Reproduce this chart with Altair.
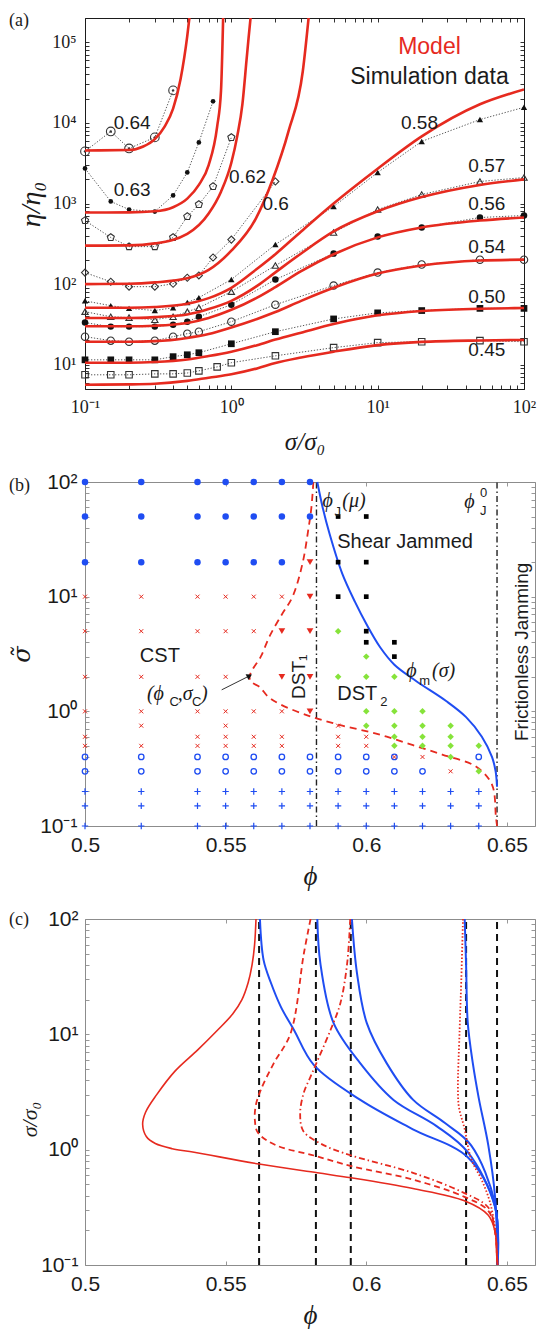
import altair as alt
import pandas as pd

SERIF = "Liberation Serif"
SANS = "Liberation Sans"
RED = "#e62a1f"
BLUE = "#1f4df2"
GREEN = "#86e33a"
INK = "#1b1b1b"
GRAY = "#8c8c8c"
TK = 4

# ---------------- Panel (a): model curves (sigma/sigma0, eta/eta0) ----------------
m045_s = [0.1, 0.2, 0.3, 0.5, 0.7, 1, 1.5, 2, 3, 5, 10, 20, 50, 100]
m045_e = [5.65, 5.7, 5.8, 6.3, 6.9, 7.6, 9.0, 10.5, 12.3, 14.5, 17.5, 19.2, 20.0, 20.3]
m050_s = [0.1, 0.2, 0.3, 0.5, 0.7, 1, 1.5, 2, 3, 5, 10, 20, 50, 100]
m050_e = [10.6, 10.6, 10.8, 11.6, 12.8, 14.5, 17.5, 20.5, 25, 32, 41, 46.5, 49.5, 50.5]
m054_s = [0.1, 0.2, 0.3, 0.5, 0.7, 1, 1.5, 2, 3, 5, 10, 20, 50, 100]
m054_e = [19.3, 19.3, 19.6, 21.5, 24, 29, 37, 45, 62, 90, 135, 170, 196, 201]
m056_s = [0.1, 0.2, 0.3, 0.5, 0.7, 1, 1.5, 2, 3, 5, 10, 20, 50, 100]
m056_e = [30, 30, 30.5, 33, 38, 48, 68, 92, 145, 235, 380, 505, 615, 670]
m057_s = [0.1, 0.2, 0.3, 0.5, 0.7, 1, 1.5, 2, 3, 5, 10, 20, 50, 100]
m057_e = [38, 38, 39, 42, 49, 62, 95, 140, 240, 450, 800, 1200, 1700, 1990]
m058_s = [0.1, 0.2, 0.3, 0.5, 0.7, 1, 1.5, 2, 3, 5, 10, 20, 50, 100]
m058_e = [51, 51, 52, 57, 67, 90, 155, 235, 450, 1000, 2700, 6800, 17000, 26000]
m060_s = [0.1, 0.2, 0.3, 0.5, 0.7, 1, 1.47, 1.92, 2.46, 3.08, 3.39]
m060_e = [100, 101, 105, 118, 150, 260, 650, 2000, 7900, 44000, 220000]
m062_s = [0.1, 0.2, 0.3, 0.5, 0.7, 0.85, 1.0, 1.1, 1.19, 1.27, 1.31, 1.36]
m062_e = [300, 302, 320, 420, 750, 1400, 3200, 7000, 17000, 60000, 110000, 220000]
m063_s = [0.1, 0.2, 0.3, 0.4, 0.5, 0.6, 0.7, 0.8, 0.85, 0.88]
m063_e = [773, 775, 800, 900, 1150, 1700, 3000, 9000, 25000, 220000]
m064_s = [0.1, 0.2, 0.25, 0.3, 0.35, 0.4, 0.45, 0.5, 0.52]
m064_e = [4550, 4600, 5100, 6300, 9000, 15000, 35000, 120000, 220000]

# ---------------- Panel (a): simulation data ----------------
d045_s = [0.1, 0.15, 0.2, 0.3, 0.4, 0.5, 0.6, 0.8, 1, 2, 5, 10, 20, 50, 100]
d045_e = [7.5, 7.5, 7.5, 7.7, 7.7, 7.9, 8.4, 9.4, 10.6, 12.9, 16.3, 18.8, 19.3, 19.9, 19.3]
d050_s = [0.1, 0.15, 0.2, 0.3, 0.4, 0.5, 0.6, 1, 2, 5, 10, 20, 50, 100]
d050_e = [11.5, 11.5, 11.5, 11.5, 12.6, 13.3, 14.1, 18.2, 25.7, 37, 44, 47, 50, 50]
d054_s = [0.1, 0.15, 0.2, 0.3, 0.4, 0.5, 0.6, 1, 2, 5, 10, 20, 50, 100]
d054_e = [22.3, 19.9, 19.3, 19.9, 22.3, 24.3, 25.7, 34.2, 55.6, 96, 139, 175, 201, 201]
d056_s = [0.1, 0.15, 0.2, 0.3, 0.4, 0.5, 0.6, 1, 2, 5, 10, 20, 50, 100]
d056_e = [33.3, 29.7, 29.7, 29.7, 31.4, 34.2, 39.4, 55.6, 114, 239, 389, 504, 670, 710]
d057_s = [0.1, 0.15, 0.2, 0.3, 0.4, 0.5, 0.6, 1, 2, 5, 10, 20, 50, 100]
d057_e = [45.5, 39.4, 38.4, 36.2, 39.4, 45.5, 51, 80.7, 170, 437, 841, 1294, 1875, 2100]
d058_s = [0.1, 0.15, 0.2, 0.3, 0.4, 0.5, 0.6, 1, 2, 5, 10, 20, 50, 100]
d058_e = [62, 54, 50, 47, 51, 59, 68, 114, 310, 918, 2430, 5890, 11000, 15600]
d060_s = [0.1, 0.15, 0.2, 0.3, 0.4, 0.5, 0.6, 0.75, 1, 2]
d060_e = [139, 107, 93, 93, 101, 120, 128, 214, 357, 1875]
d062_s = [0.1, 0.15, 0.2, 0.3, 0.4, 0.5, 0.6, 0.75, 1]
d062_e = [615, 379, 292, 292, 379, 690, 973, 1625, 6600]
d063_s = [0.1, 0.15, 0.2, 0.3, 0.4, 0.5, 0.6, 0.75]
d063_e = [2720, 1060, 841, 794, 1258, 2430, 5730, 18500]
d064_s = [0.1, 0.15, 0.2, 0.3, 0.4]
d064_e = [4430, 7830, 4820, 6610, 25300]

a_labels = ["0.64", "0.63", "0.62", "0.6", "0.58", "0.57", "0.56", "0.54", "0.50", "0.45"]
a_label_s = [0.21, 0.21, 1.29, 2.01, 19.3, 55.7, 55.7, 55.7, 55.7, 55.7]
a_label_e = [10100, 1490, 2160, 973, 10100, 2880, 973, 292, 70, 15.4]

# ---------------- Panel (b): state diagram ----------------
bdot_phi = [0.50, 0.50, 0.50, 0.52, 0.52, 0.52, 0.54, 0.54, 0.54, 0.55, 0.55, 0.55,
            0.56, 0.56, 0.56, 0.57, 0.57, 0.57, 0.58, 0.58]
bdot_sig = [100, 50, 20, 100, 50, 20, 100, 50, 20, 100, 50, 20,
            100, 50, 20, 100, 50, 20, 100, 50]
cross_phi = [0.50] * 6 + [0.52] * 6 + [0.54] * 6 + [0.55] * 7 + [0.56] * 5 + [0.57] * 4 + \
            [0.59] * 3 + [0.60] * 2 + [0.61, 0.62, 0.63]
cross_sig = [10, 5, 2, 1, 0.6, 0.5, 10, 5, 2, 1, 0.75, 0.5, 10, 5, 2, 1, 0.6, 0.5,
             10, 5, 2, 1, 0.75, 0.6, 0.5, 10, 5, 1, 0.6, 0.5, 10, 1, 0.6, 0.5,
             0.75, 0.6, 0.5, 0.6, 0.5, 0.4, 0.4, 0.3]
tri_phi = [0.57, 0.57, 0.58, 0.58, 0.58, 0.58, 0.58]
tri_sig = [5, 2, 20, 10, 5, 2, 1]
sq_phi = [0.59, 0.59, 0.59, 0.60, 0.60, 0.60, 0.60, 0.60, 0.61, 0.61]
sq_sig = [50, 20, 10, 50, 20, 10, 5, 4, 4, 3]
dm_phi = [0.59, 0.59, 0.60, 0.60, 0.60, 0.60, 0.61, 0.61, 0.61, 0.61, 0.61,
          0.62, 0.62, 0.62, 0.62, 0.63, 0.63, 0.63, 0.63, 0.64, 0.64]
dm_sig = [5, 2, 3, 2, 1, 0.75, 2, 1, 0.75, 0.6, 0.5, 1, 0.75, 0.6, 0.5,
          0.75, 0.6, 0.5, 0.4, 0.5, 0.3]
ring_cols = [0.50, 0.52, 0.54, 0.55, 0.56, 0.57, 0.58, 0.59, 0.60, 0.61]
ring_phi = [p for p in ring_cols for _ in (0, 1)] + [0.62, 0.64]
ring_sig = [0.4, 0.3] * len(ring_cols) + [0.3, 0.4]
plus_cols = [0.50, 0.52, 0.54, 0.55, 0.56, 0.57, 0.58, 0.59, 0.60, 0.61, 0.62, 0.63, 0.64]
plus_phi = [p for p in plus_cols for _ in (0, 1, 2)]
plus_sig = [0.2, 0.15, 0.1] * len(plus_cols)

phim_phi = [0.5826, 0.5845, 0.5870, 0.5915, 0.5960, 0.6000, 0.6050, 0.6100, 0.6177,
            0.6284, 0.6355, 0.6411, 0.6447, 0.6460, 0.6465]
phim_sig = [100, 60, 35, 15.8, 9, 5.8, 3.6, 2.55, 1.84, 1.23, 0.89, 0.6, 0.4, 0.3, 0.22]
rd_phi = [0.5812, 0.5805, 0.5795, 0.5773, 0.5738, 0.5700, 0.5656, 0.5625, 0.5595, 0.5585,
          0.5592, 0.5621, 0.5650, 0.5691, 0.5798, 0.5915, 0.6035, 0.6152, 0.6270, 0.6390,
          0.6447, 0.6461, 0.6465]
rd_sig = [100, 60, 40, 19.3, 10, 7, 4.5, 3.0, 2.3, 2.0, 1.8, 1.63, 1.35, 1.16, 0.91,
          0.75, 0.64, 0.52, 0.42, 0.33, 0.23, 0.12, 0.1]
b_vlines = [0.5823, 0.6465]

# ---------------- Panel (c): flow-curve boundaries ----------------
c_vlines = [0.5619, 0.5821, 0.5945, 0.6355, 0.6465]
c_solid_phi = [0.5608, 0.5603, 0.5594, 0.5580, 0.5558, 0.5525, 0.5470, 0.5400, 0.5320, 0.5255,
               0.5215, 0.5205, 0.5218, 0.5250, 0.5310, 0.5388, 0.5619, 0.5826, 0.5947, 0.6166,
               0.6349, 0.6434, 0.6458, 0.6464, 0.6467]
c_solid_sig = [100, 60, 40, 28, 20, 15, 10.8, 7.3, 4.8, 3.0, 2.1, 1.65, 1.3, 1.13, 1.02, 0.95,
               0.75, 0.63, 0.57, 0.46, 0.36, 0.27, 0.195, 0.12, 0.1]
c_dash_phi = [0.5802, 0.5778, 0.5731, 0.5671, 0.5625, 0.5607, 0.5604, 0.5615, 0.5680, 0.5814,
              0.5947, 0.6166, 0.6349, 0.6434, 0.6458, 0.6465, 0.6467]
c_dash_sig = [100, 50, 10.2, 5.6, 3.3, 2.4, 1.8, 1.4, 1.09, 0.89, 0.72, 0.55, 0.39, 0.295,
              0.195, 0.12, 0.1]
c_dd_phi = [0.5943, 0.5932, 0.5908, 0.5873, 0.5802, 0.5777, 0.5765, 0.5777, 0.5850, 0.5947,
            0.6166, 0.6349, 0.6434, 0.6458, 0.6465, 0.6467]
c_dd_sig = [100, 41, 18.6, 10.9, 4.3, 3.07, 2.03, 1.44, 1.09, 0.89, 0.63, 0.42, 0.315, 0.195,
            0.12, 0.1]
c_dot_phi = [0.6344, 0.6338, 0.6332, 0.6326, 0.6330, 0.6349, 0.6373, 0.6410, 0.6440, 0.6460]
c_dot_sig = [100, 30, 10.9, 3.3, 2.3, 1.54, 0.83, 0.55, 0.35, 0.2]
cbA_phi = [0.5622, 0.5635, 0.5661, 0.5696, 0.5743, 0.5814, 0.5979, 0.6166, 0.6361, 0.6458, 0.6467]
cbA_sig = [100, 44, 28, 17.4, 10.9, 5.4, 2.7, 1.5, 0.86, 0.32, 0.1]
cbB_phi = [0.5826, 0.5837, 0.5884, 0.5979, 0.6097, 0.6250, 0.6361, 0.6458, 0.6467]
cbB_sig = [100, 41, 12.5, 5.6, 2.7, 1.6, 0.95, 0.32, 0.1]
cbC_phi = [0.5949, 0.5967, 0.6002, 0.6073, 0.6167, 0.6280, 0.6373, 0.6458, 0.6467]
cbC_sig = [100, 34, 12.5, 5.6, 2.7, 1.7, 1.09, 0.34, 0.1]
cbD_phi = [0.6350, 0.6355, 0.6361, 0.6379, 0.6400, 0.6434, 0.6458, 0.6467]
cbD_sig = [100, 40, 12.5, 5.6, 2.8, 1.09, 0.39, 0.1]

# ================= helpers =================
SUP = {-1: "10\u207b\u00b9", 0: "10\u2070", 1: "10\u00b9", 2: "10\u00b2",
       3: "10\u00b3", 4: "10\u2074", 5: "10\u2075"}


def decade_expr(decs):
    parts = [f"abs(log(datum.value)/log(10) - ({d})) < 0.001 ? '{SUP[d]}'" for d in decs]
    return " : ".join(parts) + " : ''"


def log_ticks(d0, d1, lo, hi):
    out = []
    for d in range(d0, d1 + 1):
        for k in range(1, 10):
            v = round(k * 10.0 ** d, 10)
            if lo <= v <= hi:
                out.append(v)
    return out


def axis(orient, values, labels=True, expr=None, fmt=None, font=SANS, fsize=21, pad=8,
         tcolor=INK, title=None, tfont=SERIF, tsize=24, tx=None, ty=None):
    kw = dict(orient=orient, values=values, offset=-TK, domain=False, tickSize=TK,
              tickColor=tcolor, tickWidth=0.9, grid=False, labelOverlap=False,
              labelFlush=False, title=title, minExtent=0)
    if labels:
        kw.update(labels=True, labelFont=font, labelFontSize=fsize, labelColor=INK,
                  labelPadding=pad)
        if expr is not None:
            kw["labelExpr"] = expr
        if fmt is not None:
            kw["format"] = fmt
    else:
        kw.update(labels=False, maxExtent=0)
    if title:
        kw.update(titleFont=tfont, titleFontSize=tsize, titleFontStyle="italic",
                  titleFontWeight="normal", titleColor=INK, titleAlign="center",
                  titleBaseline="middle")
        if tx is not None:
            kw["titleX"] = tx
        if ty is not None:
            kw["titleY"] = ty
    return alt.Axis(**kw)


def series_df(items, xname, yname):
    rows = []
    for key, xs, ys in items:
        for i, (a, b) in enumerate(zip(xs, ys)):
            rows.append({"key": key, xname: a, yname: b, "i": i})
    return pd.DataFrame(rows)


def panel_letter(txt, dy):
    return alt.Chart(pd.DataFrame({"t": [txt]})).mark_text(
        font=SERIF, fontSize=18, color=INK, align="left", baseline="top"
    ).encode(x=alt.value(-76), y=alt.value(dy), text="t:N")


# ================= Panel (a) =================
WA, HA = 439, 371
xs_a = alt.Scale(type="log", domain=[0.1, 100])
ys_a = alt.Scale(type="log", domain=[5, 2e5])
xa_vals = log_ticks(-1, 2, 0.1, 100)
ya_vals = log_ticks(0, 5, 5, 2e5)

ax_a_x = axis("bottom", xa_vals, expr=decade_expr([-1, 0, 1, 2]), font=SERIF, fsize=18, pad=9,
              title="σ/σ₀", tsize=25, ty=56)
ax_a_y = axis("left", ya_vals, expr=decade_expr([1, 2, 3, 4, 5]), font=SERIF, fsize=18, pad=9,
              title="η/η₀", tsize=28, tx=-58, ty=186)

model_df = series_df([
    ("0.45", m045_s, m045_e), ("0.50", m050_s, m050_e), ("0.54", m054_s, m054_e),
    ("0.56", m056_s, m056_e), ("0.57", m057_s, m057_e), ("0.58", m058_s, m058_e),
    ("0.6", m060_s, m060_e), ("0.62", m062_s, m062_e), ("0.63", m063_s, m063_e),
    ("0.64", m064_s, m064_e)], "s", "e")

SQ = "square"
CI = "circle"
TU = "triangle-up"
DI = "diamond"
PENT = "M0,-1L0.951,-0.309L0.588,0.809L-0.588,0.809L-0.951,-0.309Z"
data_items = [
    ("0.45", d045_s, d045_e, SQ, False, 42), ("0.50", d050_s, d050_e, SQ, True, 45),
    ("0.54", d054_s, d054_e, CI, False, 55), ("0.56", d056_s, d056_e, CI, True, 42),
    ("0.57", d057_s, d057_e, TU, False, 40), ("0.58", d058_s, d058_e, TU, True, 40),
    ("0.6", d060_s, d060_e, DI, False, 50), ("0.62", d062_s, d062_e, PENT, False, 55),
    ("0.63", d063_s, d063_e, CI, True, 22), ("0.64", d064_s, d064_e, CI, False, 75),
]
rows = []
for key, xs, ys, shp, fil, sz in data_items:
    for i, (a, b) in enumerate(zip(xs, ys)):
        rows.append({"key": key, "s": a, "e": b, "i": i, "shape": shp, "filled": fil, "size": sz})
data_df = pd.DataFrame(rows)

enc_a = dict(x=alt.X("s:Q", scale=xs_a, axis=None), y=alt.Y("e:Q", scale=ys_a, axis=None))

a_dots_line = alt.Chart(data_df).mark_line(
    color="#444", strokeDash=[1.3, 1.7], strokeWidth=0.9
).encode(detail="key:N", order="i:Q", **enc_a)
a_open = alt.Chart(data_df[~data_df["filled"]]).mark_point(
    filled=False, color="#333", strokeWidth=1.1, opacity=1
).encode(shape=alt.Shape("shape:N", scale=None), size=alt.Size("size:Q", scale=None), **enc_a)
a_fill = alt.Chart(data_df[data_df["filled"]]).mark_point(
    filled=True, color="#111", opacity=1
).encode(shape=alt.Shape("shape:N", scale=None), size=alt.Size("size:Q", scale=None), **enc_a)
a_center = alt.Chart(data_df[data_df["key"] == "0.64"]).mark_point(
    filled=True, color="#333", size=6, shape="circle", opacity=1).encode(**enc_a)

a_model = alt.Chart(model_df).mark_line(
    color=RED, strokeWidth=2.6, clip=True, interpolate="monotone"
).encode(x=alt.X("s:Q", scale=xs_a, axis=ax_a_x), y=alt.Y("e:Q", scale=ys_a, axis=ax_a_y),
         detail="key:N", order="i:Q")

a_lab = alt.Chart(pd.DataFrame({"t": a_labels, "s": a_label_s, "e": a_label_e})).mark_text(
    font=SANS, fontSize=19, color=INK).encode(text="t:N", **enc_a)
a_leg = alt.Chart(pd.DataFrame({"t": ["Model", "Simulation data"], "s": [22.6, 22.6],
                                "e": [86700, 36700], "c": [RED, INK]})).mark_text(
    font=SANS, fontSize=23).encode(text="t:N", color=alt.Color("c:N", scale=None), **enc_a)
a_frame = alt.Chart(pd.DataFrame({"s": [1.0], "e": [100.0]})).mark_point(opacity=0).encode(
    x=alt.X("s:Q", scale=xs_a, axis=axis("top", xa_vals, labels=False)),
    y=alt.Y("e:Q", scale=ys_a, axis=axis("right", ya_vals, labels=False)))

panel_a = alt.layer(a_frame, a_dots_line, a_open, a_fill, a_center, a_model, a_lab, a_leg,
                    panel_letter("(a)", -6)).properties(
    width=WA, height=HA, view=alt.ViewBackground(stroke=INK, strokeWidth=1))

# ================= Panel (b) =================
WB, HB = 450, 344
xs_b = alt.Scale(domain=[0.5, 0.66], nice=False, zero=False)
ys_b = alt.Scale(type="log", domain=[0.1, 100])
xb_vals = [0.5, 0.55, 0.6, 0.65]
yb_vals = log_ticks(-1, 2, 0.1, 100)

ax_b_x = axis("bottom", xb_vals, fmt="~g", pad=8, tcolor=GRAY, title="ϕ", tsize=27, ty=54)
ax_b_y = axis("left", yb_vals, expr=decade_expr([-1, 0, 1, 2]), pad=8, tcolor=GRAY,
              title="σ̃", tfont="DejaVu Serif", tsize=24, tx=-67, ty=172)

enc_b = dict(x=alt.X("p:Q", scale=xs_b, axis=None), y=alt.Y("s:Q", scale=ys_b, axis=None))


def pts(phi, sig):
    return pd.DataFrame({"p": phi, "s": sig})


XSHAPE = "M-1,-1L1,1M-1,1L1,-1"
PLUS = "M-1,0L1,0M0,-1L0,1"

b_frame = alt.Chart(pts([0.6], [1.0])).mark_point(opacity=0).encode(
    x=alt.X("p:Q", scale=xs_b, axis=axis("top", xb_vals, labels=False, tcolor=GRAY)),
    y=alt.Y("s:Q", scale=ys_b, axis=axis("right", yb_vals, labels=False, tcolor=GRAY)))
b_vl = alt.Chart(pd.DataFrame({"p": b_vlines, "lo": [0.1, 0.1], "hi": [100, 100]})).mark_rule(
    color="#222", strokeWidth=1.4, strokeDash=[6, 3, 1.5, 3]).encode(
    x=alt.X("p:Q", scale=xs_b, axis=ax_b_x), y=alt.Y("lo:Q", scale=ys_b, axis=ax_b_y), y2="hi:Q")
b_dots = alt.Chart(pts(bdot_phi, bdot_sig)).mark_point(
    filled=True, color=BLUE, size=42, shape="circle", opacity=1).encode(**enc_b)
b_ring = alt.Chart(pts(ring_phi, ring_sig)).mark_point(
    filled=False, color=BLUE, size=30, shape="circle", strokeWidth=1.3, opacity=1).encode(**enc_b)
b_plus = alt.Chart(pts(plus_phi, plus_sig)).mark_point(
    filled=False, color=BLUE, size=40, shape=PLUS, strokeWidth=1.2, opacity=1).encode(**enc_b)
b_cross = alt.Chart(pts(cross_phi, cross_sig)).mark_point(
    filled=False, color=RED, size=16, shape=XSHAPE, strokeWidth=1.0, opacity=1).encode(**enc_b)
b_tri = alt.Chart(pts(tri_phi, tri_sig)).mark_point(
    filled=True, color=RED, size=45, shape="triangle-down", opacity=1).encode(**enc_b)
b_sq = alt.Chart(pts(sq_phi, sq_sig)).mark_point(
    filled=True, color="#000", size=22, shape="square", opacity=1).encode(**enc_b)
b_dm = alt.Chart(pts(dm_phi, dm_sig)).mark_point(
    filled=True, color=GREEN, size=42, shape="diamond", opacity=1).encode(**enc_b)
b_red = alt.Chart(pd.DataFrame({"p": rd_phi, "s": rd_sig, "i": range(len(rd_phi))})).mark_line(
    color=RED, strokeWidth=1.8, strokeDash=[7, 5], interpolate="catmull-rom").encode(
    order="i:Q", **enc_b)
b_blue = alt.Chart(pd.DataFrame({"p": phim_phi, "s": phim_sig, "i": range(len(phim_phi))})).mark_line(
    color=BLUE, strokeWidth=2, interpolate="catmull-rom").encode(order="i:Q", **enc_b)

arrow_p = [0.5486, 0.5585]
arrow_s = [1.54, 2.04]
b_arrow = alt.Chart(pts(arrow_p, arrow_s)).mark_line(color="#333", strokeWidth=1).encode(**enc_b)
b_head = alt.Chart(pts(arrow_p[1:], arrow_s[1:])).mark_point(
    filled=True, color="#111", size=40, shape="triangle-right", angle=333, opacity=1).encode(**enc_b)


def tlayer(t, p, s, **kw):
    return alt.Chart(pd.DataFrame({"t": t, "p": p, "s": s})).mark_text(**kw).encode(
        text="t:N", **enc_b)


b_txt_sans = tlayer(["CST", "Shear Jammed", "DST"], [0.5195, 0.5897, 0.5897], [3.04, 30, 1.42],
                    font=SANS, fontSize=20, color=INK, align="left", baseline="middle")
b_txt_rot = tlayer(["DST₁", "Frictionless Jamming"], [0.5762, 0.6552], [2.0, 3.3],
                   font=SANS, fontSize=19, color=INK, align="center", baseline="middle", angle=270)
b_txt_phi = tlayer(["(ϕ", ",σ", ")", "ϕ", "(μ)", "ϕ", "(σ)", "ϕ"],
                   [0.5220, 0.5330, 0.5412, 0.5844, 0.5915, 0.6142, 0.6234, 0.6348],
                   [1.42, 1.42, 1.42, 68, 68, 2.25, 2.25, 67],
                   font=SERIF, fontSize=20, fontStyle="italic", color=INK, align="left",
                   baseline="middle")
b_txt_sub = tlayer(["C", "C", "J", "m", "0", "J", "2"],
                   [0.5300, 0.5380, 0.5887, 0.6188, 0.6404, 0.6404, 0.6050],
                   [1.21, 1.21, 55, 1.84, 80, 55.8, 1.2],
                   font=SANS, fontSize=13, color=INK, align="left", baseline="middle")

panel_b = alt.layer(b_frame, b_vl, b_red, b_blue, b_plus, b_ring, b_dots, b_cross, b_tri,
                    b_sq, b_dm, b_arrow, b_head, b_txt_sans, b_txt_rot, b_txt_phi, b_txt_sub,
                    panel_letter("(b)", -5)).properties(
    width=WB, height=HB, view=alt.ViewBackground(stroke=GRAY, strokeWidth=1))

# ================= Panel (c) =================
WC, HC = 450, 346
ax_c_x = axis("bottom", xb_vals, fmt="~g", pad=8, tcolor=GRAY, title="ϕ", tsize=27, ty=54)
ax_c_y = axis("left", yb_vals, expr=decade_expr([-1, 0, 1, 2]), pad=7, tcolor=GRAY,
              title="σ/σ₀", tsize=22, tx=-60, ty=200)
enc_c = dict(x=alt.X("p:Q", scale=xs_b, axis=None), y=alt.Y("s:Q", scale=ys_b, axis=None))

c_frame = alt.Chart(pts([0.6], [1.0])).mark_point(opacity=0).encode(
    x=alt.X("p:Q", scale=xs_b, axis=axis("top", xb_vals, labels=False, tcolor=GRAY)),
    y=alt.Y("s:Q", scale=ys_b, axis=axis("right", yb_vals, labels=False, tcolor=GRAY)))
c_vl = alt.Chart(pd.DataFrame({"p": c_vlines, "lo": [0.1] * 5, "hi": [100] * 5})).mark_rule(
    color="#111", strokeWidth=2, strokeDash=[7, 5]).encode(
    x=alt.X("p:Q", scale=xs_b, axis=ax_c_x), y=alt.Y("lo:Q", scale=ys_b, axis=ax_c_y), y2="hi:Q")


def cline(phi, sig, color, width, dash=None):
    kw = dict(color=color, strokeWidth=width, interpolate="catmull-rom", clip=True)
    if dash is not None:
        kw["strokeDash"] = dash
    return alt.Chart(pd.DataFrame({"p": phi, "s": sig, "i": range(len(phi))})).mark_line(
        **kw).encode(order="i:Q", **enc_c)


c_lines = [
    cline(cbA_phi, cbA_sig, BLUE, 2), cline(cbB_phi, cbB_sig, BLUE, 2),
    cline(cbC_phi, cbC_sig, BLUE, 2), cline(cbD_phi, cbD_sig, BLUE, 2),
    cline(c_solid_phi, c_solid_sig, RED, 1.6),
    cline(c_dash_phi, c_dash_sig, RED, 1.8, [6, 4]),
    cline(c_dd_phi, c_dd_sig, RED, 1.8, [6, 3, 1.5, 3]),
    cline(c_dot_phi, c_dot_sig, RED, 1.8, [1.5, 2]),
]
panel_c = alt.layer(c_frame, c_vl, *c_lines, panel_letter("(c)", -8)).properties(
    width=WC, height=HC, view=alt.ViewBackground(stroke=GRAY, strokeWidth=1))

chart = alt.vconcat(panel_a, panel_b, panel_c, spacing=93, bounds="flush").properties(
    padding={"left": 8, "top": 8, "right": 0, "bottom": 0}
).configure(font=SANS).configure_view(stroke=GRAY)

chart.save("out.html", embed_options={"renderer": "svg", "actions": False})
